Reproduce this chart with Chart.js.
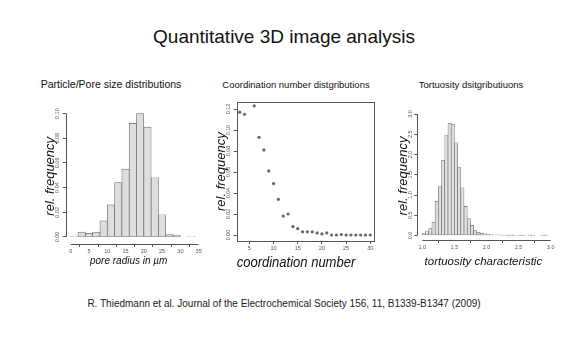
<!DOCTYPE html>
<html>
<head>
<meta charset="utf-8">
<script src="https://cdn.jsdelivr.net/npm/chart.js@4.4.1/dist/chart.umd.min.js"></script>
<style>
  body { margin: 0; background: #fff; }
  #slide { position: relative; width: 569px; height: 350px; overflow: hidden;
           font-family: "Liberation Sans", Arial, sans-serif; color: #111; }
  .txt { position: absolute; white-space: nowrap; transform: translate(-50%, -50%); }
  canvas { position: absolute; }
</style>
</head>
<body>
<div id="slide">
  <div class="txt" style="left:284px; top:37px; font-size:19px">Quantitative 3D image analysis</div>
  <div class="txt" style="left:111px; top:84px; font-size:10.5px">Particle/Pore size distributions</div>
  <div class="txt" style="left:296px; top:84px; font-size:9.5px">Coordination number distgributions</div>
  <div class="txt" style="left:471px; top:84px; font-size:9.5px">Tortuosity dsitgributiuons</div>
  <canvas id="pore" width="215" height="180" style="left:0; top:95px"></canvas>
  <canvas id="coord" width="190" height="185" style="left:195px; top:90px"></canvas>
  <canvas id="tort" width="184" height="180" style="left:385px; top:95px"></canvas>
  <div class="txt" style="left:284px; top:303px; font-size:10px; color:#222">R. Thiedmann et al. Journal of the Electrochemical Society 156, 11, B1339-B1347 (2009)</div>
</div>

<script>
// pore radius histogram (bin centres, width 2)
var poreRadius = [1, 3, 5, 7, 9, 11, 13, 15, 17, 19, 21, 23, 25, 27, 29, 31, 33];
var poreFreq   = [0.0008, 0.004, 0.003, 0.004, 0.013, 0.026, 0.044, 0.055, 0.092, 0.100, 0.089, 0.048, 0.018, 0.002, 0.0015, 0, 0.0006];
var poreXTicks = [0, 5, 10, 15, 20, 25, 30, 35];
var poreYTicks = [0, 0.02, 0.04, 0.06, 0.08, 0.10];

// coordination number (x = 5 lies above the plotted range)
var coordNumber = [3, 4, 6, 7, 8, 9, 10, 11, 12, 13, 14, 15, 16, 17, 18, 19, 20, 21, 22, 23, 24, 25, 26, 27, 28, 29, 30];
var coordFreq   = [0.117, 0.115, 0.123, 0.093, 0.081, 0.061, 0.049, 0.034, 0.018, 0.020, 0.008, 0.006, 0.003, 0.003, 0.003, 0.002, 0.001, 0.002, 0, 0, 0.0005, 0, 0, 0, 0, 0, 0];
var coordXTicks = [5, 10, 15, 20, 25, 30];
var coordYTicks = [0, 0.02, 0.04, 0.06, 0.08, 0.10, 0.12];

// tortuosity histogram (bin centres, width 0.05)
var tortValue = [1.025, 1.075, 1.125, 1.175, 1.225, 1.275, 1.325, 1.375, 1.425, 1.475,
                 1.525, 1.575, 1.625, 1.675, 1.725, 1.775, 1.825, 1.875, 1.925, 1.975,
                 2.025, 2.075, 2.125, 2.175, 2.225, 2.275, 2.325, 2.375, 2.425, 2.475,
                 2.525, 2.575, 2.625, 2.675, 2.725, 2.775, 2.825, 2.875, 2.925];
var tortFreq  = [0.05, 0.11, 0.17, 0.33, 0.85, 1.21, 1.86, 2.48, 2.77, 2.75,
                 2.29, 1.68, 1.18, 0.72, 0.42, 0.25, 0.12, 0.08, 0.06, 0.045,
                 0.035, 0.025, 0.02, 0.015, 0.01, 0.008, 0.005, 0.004, 0.004, 0,
                 0.004, 0.004, 0, 0.004, 0.004, 0, 0, 0.004, 0.004];
var tortXTicks = [1.0, 1.5, 2.0, 2.5, 3.0];
var tortYTicks = [0, 0.5, 1.0, 1.5, 2.0, 2.5, 3.0];

var axisGrey = "#555";
var tickFont = { family: "Liberation Sans", size: 5.5 };
var nb = "\u00a0";

// R style axis: line only from first to last tick, plus optional frame
var rAxis = {
    id: "rAxis",
    afterDraw(chart, args, opts) {
        let ctx = chart.ctx, a = chart.chartArea;
        ctx.save();
        ctx.strokeStyle = axisGrey;
        ctx.lineWidth = 1;
        if (opts.frame) {
            ctx.strokeRect(Math.round(a.left) + 0.5, Math.round(a.top) + 0.5,
                           Math.round(a.right - a.left), Math.round(a.bottom - a.top));
        } else {
            let xs = chart.scales.x, ys = chart.scales.y;
            let x0 = xs.getPixelForValue(xs.ticks[0].value);
            let x1 = xs.getPixelForValue(xs.ticks[xs.ticks.length - 1].value);
            let y0 = ys.getPixelForValue(ys.ticks[0].value);
            let y1 = ys.getPixelForValue(ys.ticks[ys.ticks.length - 1].value);
            let by = Math.round(a.bottom) + 0.5, lx = Math.round(a.left) + 0.5;
            ctx.beginPath();
            ctx.moveTo(x0, by); ctx.lineTo(x1, by);
            ctx.moveTo(lx, y0); ctx.lineTo(lx, y1);
            ctx.stroke();
        }
        ctx.restore();
    }
};

function xAxis(min, max, ticks, fmt, height, title, titleSize, titlePad) {
    return {
        type: "linear", min: min, max: max, offset: false,
        afterBuildTicks: s => { s.ticks = ticks.map(v => ({ value: v })); },
        afterFit: s => { s.height = height; },
        grid: { drawOnChartArea: false, drawTicks: true, tickLength: 3, color: axisGrey },
        border: { display: false },
        ticks: { font: tickFont, color: axisGrey, padding: 1, maxRotation: 0, autoSkip: false, callback: fmt },
        title: { display: true, text: title, color: "#111",
                 font: { family: "Liberation Sans", size: titleSize, style: "italic" },
                 padding: { top: 0, bottom: titlePad } }
    };
}

function yAxis(min, max, ticks, fmt, width, titlePad) {
    return {
        type: "linear", min: min, max: max,
        afterBuildTicks: s => { s.ticks = ticks.map(v => ({ value: v })); },
        afterFit: s => { s.width = width; },
        grid: { drawOnChartArea: false, drawTicks: true, tickLength: 3, color: axisGrey },
        border: { display: false },
        ticks: { font: tickFont, color: axisGrey, padding: 0, minRotation: 90, maxRotation: 90,
                 crossAlign: "center", autoSkip: false, callback: fmt },
        title: { display: true, text: "rel. frequency", color: "#111",
                 font: { family: "Liberation Sans", size: 13, style: "italic" },
                 padding: { top: titlePad, bottom: 0 } }
    };
}

var common = {
    responsive: false,
    animation: false,
    events: [],
    plugins: { legend: { display: false }, tooltip: { enabled: false } }
};

new Chart(document.getElementById("pore"), {
    type: "bar",
    data: {
        datasets: [{
            data: poreRadius.map((x, i) => ({ x: x, y: poreFreq[i] })),
            backgroundColor: "#dedede",
            borderColor: "#666",
            borderWidth: 0.7,
            borderSkipped: false,
            barPercentage: 1,
            categoryPercentage: 1
        }]
    },
    options: Object.assign({}, common, {
        layout: { padding: { top: 13.6, right: 15, left: 0, bottom: 0 } },
        plugins: Object.assign({}, common.plugins, { rAxis: { frame: false } }),
        scales: {
            x: xAxis(-1.36, 35.36, poreXTicks, v => String(v), 31, "pore radius in \u00b5m" + nb.repeat(3), 10, 7.3),
            y: yAxis(-0.0057, 0.104, poreYTicks, v => v.toFixed(2), 65.7, 42.2)
        }
    }),
    plugins: [rAxis]
});

new Chart(document.getElementById("coord"), {
    type: "scatter",
    data: {
        datasets: [{
            data: coordNumber.map((x, i) => ({ x: x, y: coordFreq[i] })),
            backgroundColor: "#666",
            borderWidth: 0,
            pointRadius: 1.6
        }]
    },
    options: Object.assign({}, common, {
        layout: { padding: { top: 12.3, right: 11.7, left: 0, bottom: 0 } },
        plugins: Object.assign({}, common.plugins, { rAxis: { frame: true } }),
        scales: {
            x: xAxis(2.38, 30.62, coordXTicks, v => String(v), 34, "coordination number" + nb.repeat(5), 14, 3.6),
            y: yAxis(-0.0057, 0.1264, coordYTicks, v => v.toFixed(2), 41.7, 18.9)
        }
    }),
    plugins: [rAxis]
});

new Chart(document.getElementById("tort"), {
    type: "bar",
    data: {
        datasets: [{
            data: tortValue.map((x, i) => ({ x: x, y: tortFreq[i] })),
            backgroundColor: "#dedede",
            borderColor: "#666",
            borderWidth: 0.6,
            borderSkipped: false,
            barPercentage: 1,
            categoryPercentage: 1
        }]
    },
    options: Object.assign({}, common, {
        layout: { padding: { top: 17, right: 13.2, left: 0, bottom: 0 } },
        plugins: Object.assign({}, common.plugins, { rAxis: { frame: false } }),
        scales: {
            x: xAxis(0.922, 3.08, tortXTicks, v => v.toFixed(1), 35, "tortuosity characteristic" + nb.repeat(2), 11.5, 6.1),
            y: yAxis(-0.11, 3.05, tortYTicks, v => v.toFixed(1), 32.3, 10.5)
        }
    }),
    plugins: [rAxis]
});
</script>
</body>
</html>
